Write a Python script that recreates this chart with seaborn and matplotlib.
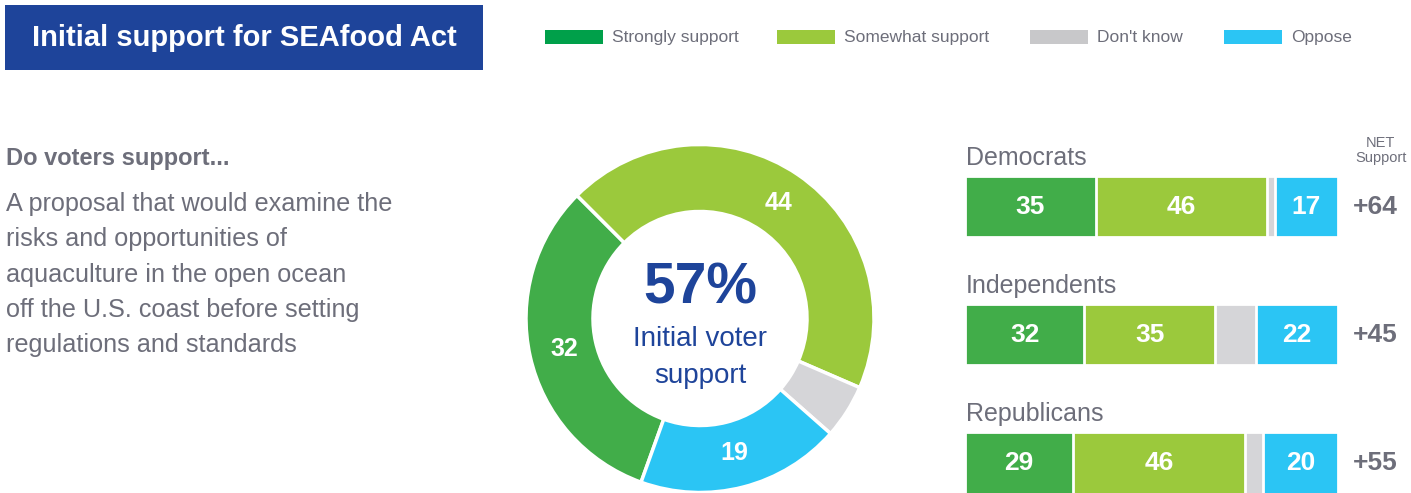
import numpy as np
import pandas as pd
import matplotlib
matplotlib.use("Agg")
import matplotlib.pyplot as plt
from matplotlib.patches import Rectangle
import seaborn as sns

# ---- data ----
categories = ["Strongly support", "Somewhat support", "Don't know", "Oppose"]
donut_values = [32, 44, 5, 19]
headline = "57%"
headline_sub = ["Initial voter", "support"]
groups = ["Democrats", "Independents", "Republicans"]
strongly = [35, 32, 29]
somewhat = [46, 35, 46]
dont_know = [2, 11, 5]
oppose = [17, 22, 20]
net_support = ["+64", "+45", "+55"]
question = "Do voters support..."
proposal = ["A proposal that would examine the",
            "risks and opportunities of",
            "aquaculture in the open ocean",
            "off the U.S. coast before setting",
            "regulations and standards"]

colors = ["#41AD49", "#9BC93C", "#D5D5D8", "#2BC5F4"]
legend_colors = ["#00A04A", "#9BC93C", "#C8C8CA", "#2BC5F4"]
BLUE = "#1E449A"
GRAY = "#6D6E7A"

W, H = 1411, 493
sns.set_theme(style="white")
plt.rcParams["font.family"] = ["Liberation Sans", "DejaVu Sans"]

fig = plt.figure(figsize=(W / 100, H / 100), dpi=100)
fig.patch.set_facecolor("white")


def px_axes(x0, y0, x1, y1):
    return fig.add_axes([x0 / W, 1 - y1 / H, (x1 - x0) / W, (y1 - y0) / H])


# overlay for header, legend and left text
over = px_axes(0, 0, W, H)
over.set_xlim(0, W)
over.set_ylim(H, 0)
over.axis("off")

over.add_patch(Rectangle((5, 5), 478, 65, color=BLUE, lw=0))
over.text(244, 38, "Initial support for SEAfood Act", color="white",
          fontsize=21, fontweight="bold", ha="center", va="center")

for x, lab, c in zip([545, 777, 1030, 1224], categories, legend_colors):
    over.add_patch(Rectangle((x, 30), 58, 14, color=c, lw=0))
    over.text(x + 67, 37.5, lab, color=GRAY, fontsize=12.5, va="center")

over.text(6, 159, question, color=GRAY, fontsize=17, fontweight="bold", va="center")
for i, line in enumerate(proposal):
    over.text(6, 204 + 35.3 * i, line, color=GRAY, fontsize=18.2, va="center")

# ---- donut ----
R = 174 * 1.02
ax_d = px_axes(700 - R, 318.5 - R, 700 + R, 318.5 + R)
ax_d.pie(donut_values, colors=colors, startangle=250.2, counterclock=False,
         wedgeprops=dict(width=0.385, edgecolor="white", linewidth=2.5),
         autopct=lambda p: f"{p:.0f}" if p >= 10 else "", pctdistance=0.80,
         textprops=dict(color="white", fontsize=18, fontweight="bold"))
ax_d.set_xlim(-1.02, 1.02)
ax_d.set_ylim(-1.02, 1.02)
ax_d.text(0, 0.17, headline, color=BLUE, fontsize=41, fontweight="bold",
          ha="center", va="center")
ax_d.text(0, -0.12, headline_sub[0], color=BLUE, fontsize=20, ha="center", va="center")
ax_d.text(0, -0.33, headline_sub[1], color=BLUE, fontsize=20, ha="center", va="center")

# ---- stacked bars by party ----
layers = np.array([strongly, somewhat, dont_know, oppose])
cum = np.cumsum(layers, axis=0)
ax_b = px_axes(965, 78, 1338, 493.5)
for k in reversed(range(len(layers))):
    df = pd.DataFrame({"group": groups, "value": cum[k]})
    sns.barplot(data=df, x="value", y="group", orient="h", color=colors[k],
                saturation=1, width=0.477, edgecolor="white", linewidth=2, ax=ax_b)
ax_b.set_xlim(0, 100)
ax_b.set_ylim(2 + 30.5 / 128, -(206.5 - 78) / 128)
ax_b.axis("off")

for i, g in enumerate(groups):
    for k in [0, 1, 3]:
        ax_b.text(cum[k][i] - layers[k][i] / 2, i, str(layers[k][i]), color="white",
                  fontsize=19, fontweight="bold", ha="center", va="center")
    ax_b.text(0.2, i - 0.38, g, color=GRAY, fontsize=18, va="center")
    ax_b.text(110, i, net_support[i], color=GRAY, fontsize=19, fontweight="bold",
              ha="center", va="center", clip_on=False)
ax_b.text(111.5, -0.44, "NET\nSupport", color=GRAY, fontsize=10.5, ha="center",
          va="center", linespacing=1.05, clip_on=False)

fig.savefig("out.png", dpi=100)
